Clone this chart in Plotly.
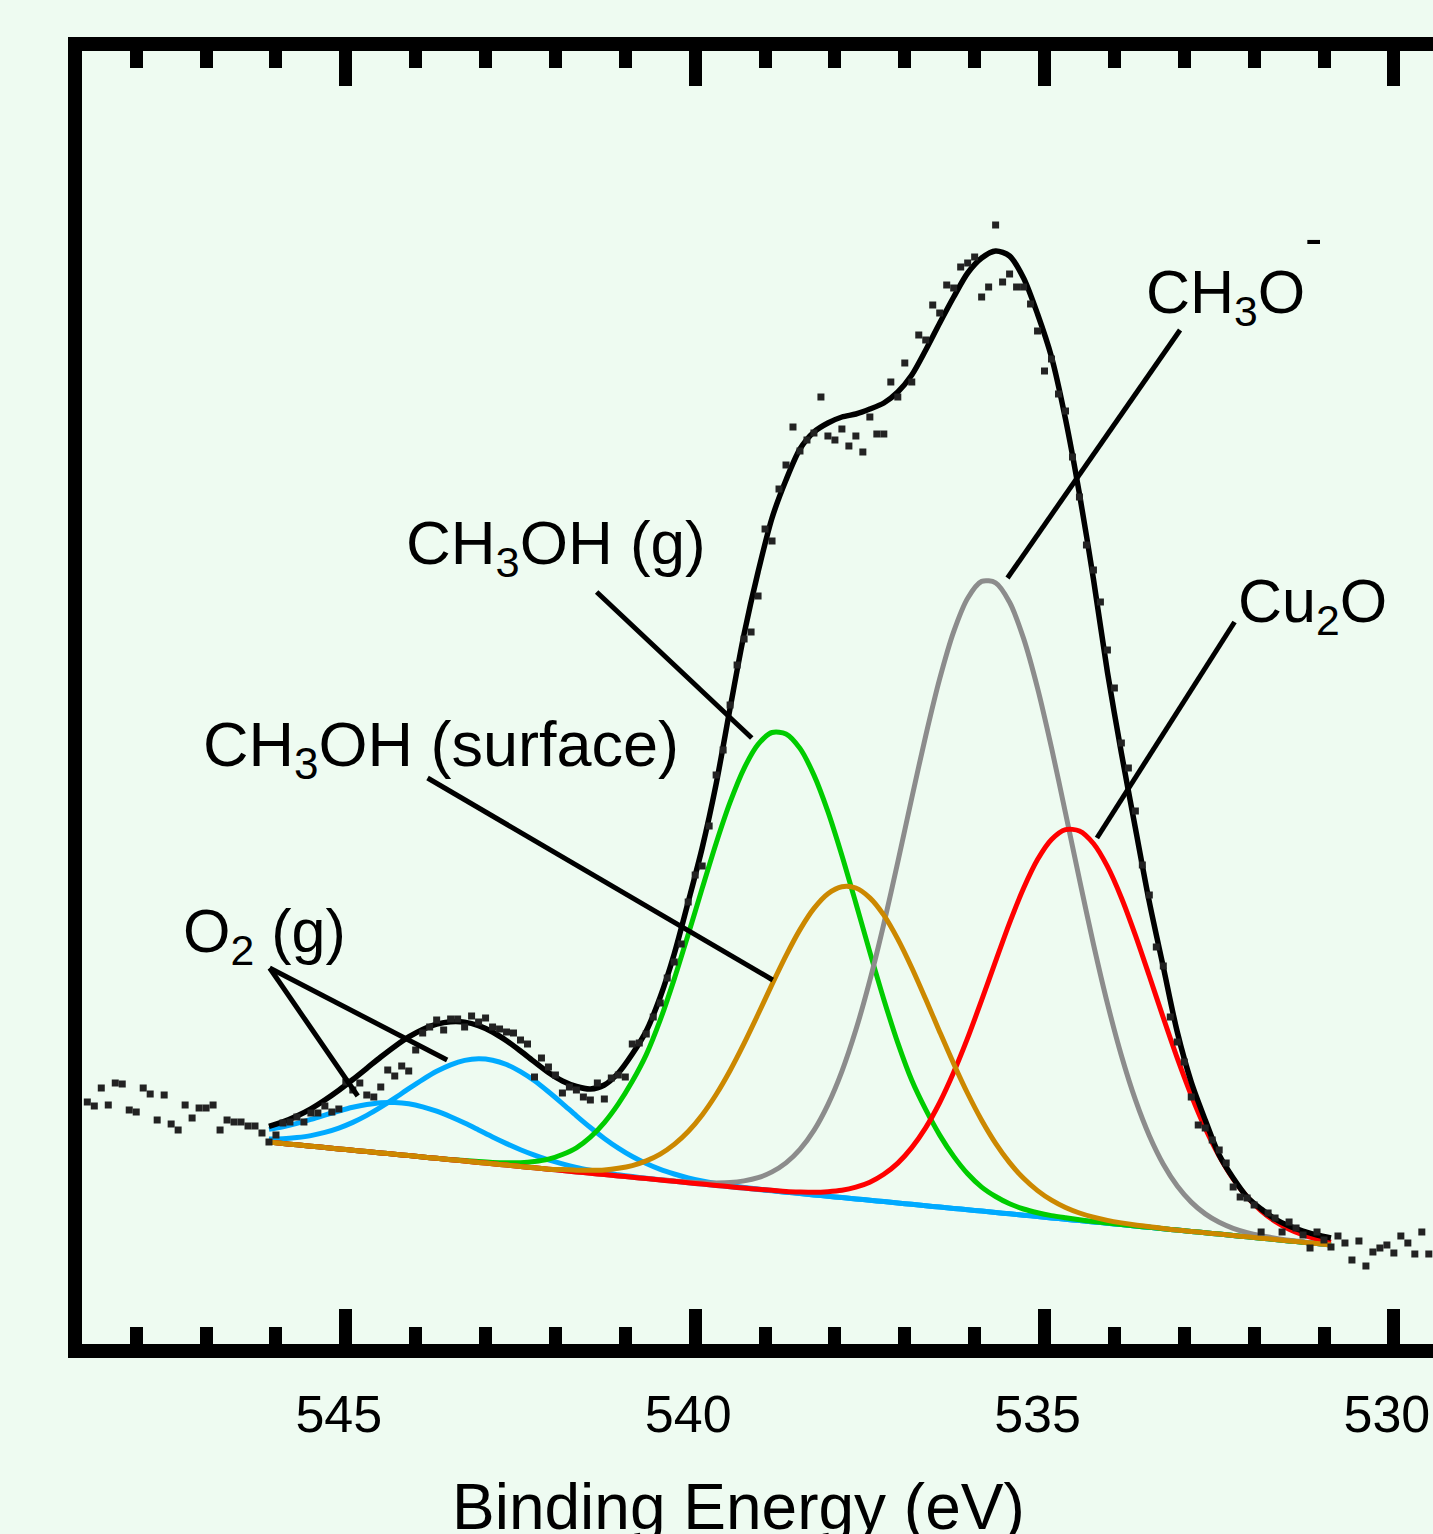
import plotly.graph_objects as go

# ---------------- data ----------------
# measured spectrum: binding energy starts at 548.7 eV, step -0.1 eV
pts_start = 548.7
pts_step = -0.1
pts_intensity = [
    242, 238, 256, 239, 261, 260, 234, 232, 256, 250,
    224, 249, 220, 214, 239, 226, 236, 236, 239, 214,
    224, 222, 222, 218, 218, 211, 202, 209, 221, 222,
    227, 222, 231, 231, 238, 232, 235, 262, 254, 261,
    249, 247, 257, 274, 268, 278, 273, 294, 311, 317,
    324, 314, 325, 325, 317, 328, 322, 326, 317, 315,
    312, 311, 304, 300, 267, 286, 277, 269, 251, 257,
    254, 247, 244, 261, 245, 266, 269, 267, 300, 301,
    310, 327, 341, 366, 382, 400, 442, 469, 478, 518,
    569, 594, 639, 679, 705, 712, 748, 815, 803, 855,
    879, 917, 893, 904, 911, 947, 908, 904, 915, 898,
    908, 892, 927, 910, 910, 962, 947, 981, 962, 1009,
    1004, 1039, 1031, 1059, 1056, 1077, 1081, 1087, 1047, 1057,
    1119, 1062, 1070, 1057, 1057, 1040, 1013, 973, 985, 950,
    933, 887, 847, 799, 774, 742, 694, 656, 601, 576,
    533, 479, 449, 397, 378, 327, 302, 282, 247, 219,
    216, 204, 194, 181, 157, 147, 146, 139, 112, 131,
    126, 112, 122, 116, 109, 96, 112, 104, 97, 108,
    101, 84, 103, 78, 92, 96, 99, 91, 108, 101,
    90, 112, 90,
]

# fit grid: binding energy starts at 546.1 eV, step -0.2 eV
fit_start = 546.1
fit_step = -0.2
background = [
    201.9, 200.5, 199.2, 197.8, 196.5, 195.1, 193.8, 192.4, 191.1, 189.7,
    188.4, 187.0, 185.7, 184.3, 183.0, 181.6, 180.2, 178.9, 177.5, 176.2,
    174.8, 173.5, 172.1, 170.8, 169.4, 168.1, 166.7, 165.4, 164.0, 162.7,
    161.3, 159.9, 158.6, 157.2, 155.9, 154.5, 153.2, 151.8, 150.5, 149.1,
    147.8, 146.4, 145.1, 143.7, 142.4, 141.0, 139.7, 138.3, 136.9, 135.6,
    134.2, 132.9, 131.5, 130.2, 128.8, 127.5, 126.1, 124.8, 123.4, 122.1,
    120.7, 119.4, 118.0, 116.7, 115.3, 113.9, 112.6, 111.2, 109.9, 108.5,
    107.2, 105.8, 104.5, 103.1, 101.8, 100.4, 99.1,
]
# component intensities above the background
o2_gas_1 = [
    3.1, 4.8, 7.3, 10.6, 15.1, 20.8, 27.8, 36.2, 45.7, 56.1,
    66.9, 77.4, 87.0, 94.9, 100.6, 103.6, 103.6, 100.6, 94.9, 87.0,
    77.4, 66.9, 56.1, 45.7, 36.2, 27.8, 20.8, 15.1, 10.6, 7.3,
    4.8, 3.1, 1.9, 1.2, 0.7, 0.4, 0.2, 0, 0, 0,
    0, 0, 0, 0, 0, 0, 0, 0, 0, 0,
    0, 0, 0, 0, 0, 0, 0, 0, 0, 0,
    0, 0, 0, 0, 0, 0, 0, 0, 0, 0,
    0, 0, 0, 0, 0, 0, 0,
]
o2_gas_2 = [
    12.7, 16.8, 21.5, 26.8, 32.4, 37.9, 42.9, 47.1, 50.2, 51.8,
    51.8, 50.2, 47.1, 42.9, 37.9, 32.4, 26.8, 21.5, 16.8, 12.7,
    9.3, 6.6, 4.5, 3.0, 1.9, 1.2, 0.7, 0.4, 0.2, 0.1,
    0, 0, 0, 0, 0, 0, 0, 0, 0, 0,
    0, 0, 0, 0, 0, 0, 0, 0, 0, 0,
    0, 0, 0, 0, 0, 0, 0, 0, 0, 0,
    0, 0, 0, 0, 0, 0, 0, 0, 0, 0,
    0, 0, 0, 0, 0, 0, 0,
]
ch3oh_gas = [
    0, 0, 0, 0, 0, 0, 0, 0, 0, 0,
    0, 0, 0, 0.2, 0.4, 0.8, 1.4, 2.3, 3.8, 6.2,
    10, 16, 24, 36, 52, 72, 96, 124, 160.1, 202.2,
    248.2, 295.7, 342.2, 384.6, 419.8, 445.1, 458.3, 458.3, 445.1, 419.8,
    384.6, 342.2, 295.7, 248.2, 202.2, 160.1, 124, 96, 72, 52,
    36, 24, 16, 10, 6.2, 3.8, 2.3, 1.4, 0.8, 0.4,
    0.2, 0, 0, 0, 0, 0, 0, 0, 0, 0,
    0, 0, 0, 0, 0, 0, 0,
]
ch3oh_surface = [
    0, 0, 0, 0, 0, 0, 0, 0, 0, 0,
    0, 0, 0, 0, 0, 0, 0, 0, 0, 0,
    0, 1.0, 1.7, 2.9, 4.7, 7.6, 11.7, 17.7, 25.9, 36.9,
    51.2, 69.2, 90.9, 116.3, 144.7, 175.2, 206.4, 236.6, 263.9, 286.5,
    302.5, 310.9, 310.9, 302.5, 286.5, 263.9, 236.6, 206.4, 175.2, 144.7,
    116.3, 90.9, 69.2, 51.2, 36.9, 25.9, 17.7, 11.7, 7.6, 4.7,
    2.9, 1.7, 1.0, 0.6, 0.3, 0, 0, 0, 0, 0,
    0, 0, 0, 0, 0, 0, 0,
]
ch3o = [
    0, 0, 0, 0, 0, 0, 0, 0, 0, 0,
    0, 0, 0, 0, 0, 0, 0, 0, 0, 0,
    0, 0, 0, 0, 0, 0, 0, 0, 0.2, 0.4,
    0.7, 1.4, 2.5, 4.2, 7.2, 11.8, 18.9, 29.3, 44.1, 64.5,
    91.6, 126.3, 169.1, 219.9, 277.8, 341.0, 406.3, 470.1, 528.4, 576.8,
    611.6, 629.7, 629.7, 611.6, 576.8, 528.4, 470.1, 406.3, 341.0, 277.8,
    219.9, 169.1, 126.3, 91.6, 64.5, 44.1, 29.3, 18.9, 11.8, 7.2,
    4.2, 2.5, 1.4, 0.7, 0.4, 0.2, 0.1,
]
cu2o = [
    0, 0, 0, 0, 0, 0, 0, 0, 0, 0,
    0, 0, 0, 0, 0, 0, 0, 0, 0, 0,
    0, 0, 0, 0, 0, 0, 0, 0, 0, 0,
    0, 0, 0, 0, 0, 0.2, 0.5, 0.8, 1.5, 2.6,
    4.5, 7.3, 11.7, 18.1, 27.3, 39.9, 56.7, 78.1, 104.6, 136.1,
    171.9, 210.9, 251.3, 290.9, 326.9, 356.9, 378.4, 389.6, 389.6, 378.4,
    356.9, 326.9, 290.9, 251.3, 210.9, 171.9, 136.1, 104.6, 78.1, 56.7,
    39.9, 27.3, 18.1, 11.7, 7.3, 4.5, 2.6,
]
# total fit envelope
envelope = [
    217.7, 222.1, 228.0, 235.2, 244.0, 253.8, 264.5, 275.7, 287.0, 297.6,
    307.1, 314.6, 319.8, 322.3, 321.9, 318.4, 312.0, 303.3, 293.0, 282.1,
    271.5, 263.0, 257.5, 255, 259, 271, 290, 313, 347, 390,
    442, 496, 560, 636, 710, 772, 826, 864, 895, 912,
    921, 927, 930, 935, 941, 952, 969, 994, 1021, 1047,
    1071, 1086, 1093, 1088, 1066, 1030, 987, 925, 850, 765,
    672, 591, 516, 442, 377, 312, 262, 224, 189, 166,
    147, 135, 125, 118, 113, 109, 106,
]

tick_values = [545, 540, 535, 530]
tick_labels = ["545", "540", "535", "530"]
axis_title = "Binding Energy (eV)"

# ---------------- styling / layout ----------------
BG = "#EEFBF1"
FONT = "Liberation Sans, Arial, Helvetica, sans-serif"

components = [
    (o2_gas_1, "#00AAFF"),
    (o2_gas_2, "#00AAFF"),
    (ch3oh_gas, "#00CC00"),
    (ch3o, "#8C8C8C"),
    (cu2o, "#FF0000"),
    (ch3oh_surface, "#CC8800"),
]

fig = go.Figure()
for comp, color in components:
    fig.add_trace(go.Scatter(
        x0=fit_start, dx=fit_step,
        y=[b + c for b, c in zip(background, comp)],
        mode="lines", line=dict(color=color, width=5, shape="spline", smoothing=0.8),
        hoverinfo="skip",
    ))

fig.add_trace(go.Scatter(
    x0=fit_start, dx=fit_step, y=envelope, mode="lines",
    line=dict(color="black", width=5.5, shape="spline", smoothing=0.8),
))

fig.add_trace(go.Scatter(
    x0=pts_start, dx=pts_step, y=pts_intensity, mode="markers",
    marker=dict(symbol="square", size=7, color="#222222", line=dict(width=0)),
))

# labels (text, x-left in eV, y in intensity units, font size)
label_specs = [
    ("CH<sub>3</sub>OH (g)", 544.17, 797, 62),
    ("CH<sub>3</sub>OH (surface)", 547.07, 596, 63),
    ("O<sub>2</sub> (g)", 547.36, 409, 61),
    ("CH<sub>3</sub>O", 533.58, 1048, 61),
    ("-", 531.30, 1106, 52),
    ("Cu<sub>2</sub>O", 532.26, 739, 61),
]
for text, lx, ly, fs in label_specs:
    fig.add_annotation(x=lx, y=ly, xref="x", yref="y", text=text, showarrow=False,
                       xanchor="left", yanchor="middle",
                       font=dict(size=fs, family=FONT, color="black"))

# leader lines (x0, y0, x1, y1)
leader_specs = [
    (541.41, 752, 539.19, 606),
    (543.83, 566, 538.89, 364),
    (546.09, 376, 543.55, 284),
    (546.09, 376, 544.83, 248),
    (533.06, 1014, 535.53, 766),
    (532.28, 722, 534.25, 506),
]
for x0, y0, x1, y1 in leader_specs:
    fig.add_shape(type="line", x0=x0, y0=y0, x1=x1, y1=y1, xref="x", yref="y",
                  line=dict(color="black", width=5))

fig.add_annotation(x=0.4856, y=-0.126, xref="paper", yref="paper", text=axis_title,
                   showarrow=False, xanchor="center", yanchor="middle",
                   font=dict(size=64, family=FONT, color="black"))

fig.update_layout(
    width=1433, height=1534,
    margin=dict(l=82, r=0, t=51, b=190, pad=0),
    paper_bgcolor=BG, plot_bgcolor=BG,
    showlegend=False,
    font=dict(family=FONT, color="black"),
    xaxis=dict(
        range=[548.776, 529.44], showline=True, linecolor="black", linewidth=14,
        mirror="ticks", ticks="inside", ticklen=35, tickwidth=13, tickcolor="black",
        tickmode="array", tickvals=tick_values, ticktext=tick_labels,
        tickfont=dict(size=52, family=FONT, color="black"),
        minor=dict(dtick=1, tick0=530, ticks="inside", ticklen=17, tickwidth=13,
                   tickcolor="black", showgrid=False),
        showgrid=False, zeroline=False, ticklabelshift=7, ticklabelstandoff=12,
        ticklabeloverflow="allow",
    ),
    yaxis=dict(
        range=[0, 1293], showline=True, linecolor="black", linewidth=14, mirror=False,
        ticks="", showticklabels=False, showgrid=False, zeroline=False,
    ),
)

fig.write_html(
    "out.html",
    config={"displayModeBar": False},
    post_script=(
        "document.documentElement.style.margin='0';"
        "document.body.style.margin='0';document.body.style.padding='0';"
        "document.body.style.overflow='hidden';"
        "document.body.style.background='" + BG + "';"
    ),
)
